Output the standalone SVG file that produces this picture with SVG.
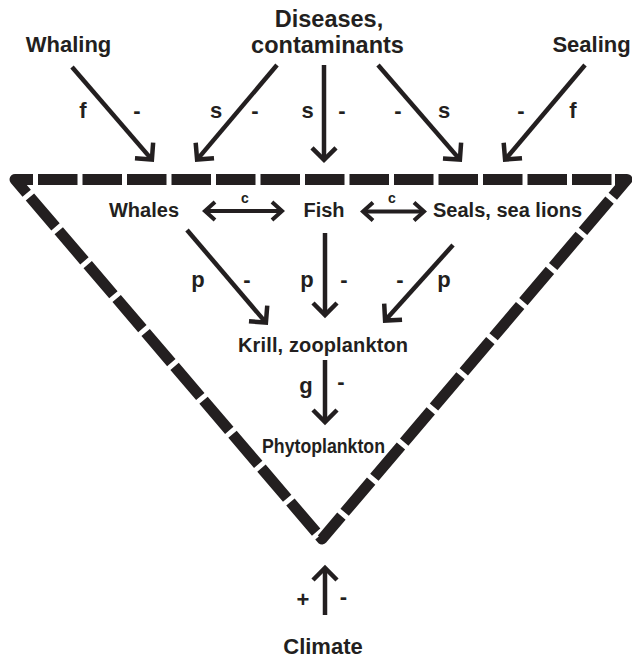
<svg xmlns="http://www.w3.org/2000/svg" width="632" height="662" viewBox="0 0 632 662">
<style>
  text { font-family: "Liberation Sans", Arial, sans-serif; font-weight: bold; fill: #231f20; text-anchor: middle; }
  .big { font-size: 22px; }
  .dis { font-size: 23.5px; }
  .mid { font-size: 20px; }
  .lbl { font-size: 22px; }
  .sm { font-size: 14px; }
  .arrow { stroke: #231f20; stroke-width: 4.5; fill: none; stroke-linecap: butt; }
  .darrow { stroke: #231f20; stroke-width: 4; fill: none; }
  .tri { stroke: #231f20; stroke-width: 11; fill: none; stroke-linecap: butt; stroke-linejoin: round; }
</style>
<defs>
  <marker id="head" viewBox="-20 -20 40 40" markerWidth="40" markerHeight="40" refX="0" refY="0" markerUnits="userSpaceOnUse" orient="auto">
    <path d="M-12,-12 L0,0 L-12,12" fill="none" stroke="#231f20" stroke-width="4.5" stroke-linejoin="miter"/>
  </marker>
  <marker id="headS" viewBox="-20 -20 40 40" markerWidth="40" markerHeight="40" refX="0" refY="0" markerUnits="userSpaceOnUse" orient="auto-start-reverse">
    <path d="M-10,-9 L0,0 L-10,9" fill="none" stroke="#231f20" stroke-width="4" stroke-linejoin="miter"/>
  </marker>
</defs>

<g id="boundary">
  <polyline class="tri" points="26.7,193.2 15,179.5 33,179.5"/>
  <line class="tri" x1="38" y1="179.5" x2="611.5" y2="179.5" stroke-dasharray="39.5 5"/>
  <polyline class="tri" points="615,179.5 627,179.5 612.8,196.3"/>
  <line class="tri" x1="609.53" y1="200.09" x2="344.64" y2="512.31" stroke-dasharray="41.06 5"/>
  <polyline class="tri" points="341.4,516.1 322,539 319.4,536"/>
  <line class="tri" x1="316.15" y1="532.16" x2="29.94" y2="196.99" stroke-dasharray="39.6 5"/>
</g>

<g id="whaling"><text class="big" x="68.5" y="52">Whaling</text></g>
<g id="diseases">
  <text class="dis" x="329" y="27">Diseases,</text>
  <text class="dis" x="327.5" y="53">contaminants</text>
</g>
<g id="sealing"><text class="big" x="591.5" y="52">Sealing</text></g>
<g id="whales"><text class="mid" x="144" y="217">Whales</text></g>
<g id="fish"><text class="mid" x="324" y="217">Fish</text></g>
<g id="seals"><text class="mid" x="507.5" y="217" textLength="149">Seals, sea lions</text></g>
<g id="krill"><text class="mid" x="323" y="352" textLength="170">Krill, zooplankton</text></g>
<g id="phyto"><text class="mid" x="323.5" y="453" textLength="123" lengthAdjust="spacingAndGlyphs">Phytoplankton</text></g>
<g id="climate"><text class="big" x="323" y="654">Climate</text></g>

<g id="connectors">
  <line class="arrow" x1="72" y1="67" x2="151.9" y2="159.6" marker-end="url(#head)"/>
  <line class="arrow" x1="277" y1="65" x2="197.1" y2="159.6" marker-end="url(#head)"/>
  <line class="arrow" x1="324" y1="65" x2="324" y2="159.8" marker-end="url(#head)"/>
  <line class="arrow" x1="378" y1="65" x2="459.9" y2="159.6" marker-end="url(#head)"/>
  <line class="arrow" x1="585" y1="65" x2="505.1" y2="159.6" marker-end="url(#head)"/>

  <line class="darrow" x1="205" y1="211" x2="282" y2="211" marker-start="url(#headS)" marker-end="url(#headS)"/>
  <line class="darrow" x1="363" y1="211.5" x2="424" y2="211.5" marker-start="url(#headS)" marker-end="url(#headS)"/>

  <line class="arrow" x1="187" y1="230" x2="265.9" y2="322.6" marker-end="url(#head)"/>
  <line class="arrow" x1="325" y1="233" x2="325" y2="315" marker-end="url(#head)"/>
  <line class="arrow" x1="453" y1="245" x2="385.1" y2="320.6" marker-end="url(#head)"/>
  <line class="arrow" x1="325" y1="360" x2="325" y2="422" marker-end="url(#head)"/>
  <line class="arrow" x1="325" y1="615" x2="325" y2="568" marker-end="url(#head)"/>
</g>

<g id="labels">
  <text class="lbl" x="83" y="118">f</text>
  <text class="lbl" x="137" y="118">-</text>
  <text class="lbl" x="216" y="118">s</text>
  <text class="lbl" x="255" y="118">-</text>
  <text class="lbl" x="307.5" y="118">s</text>
  <text class="lbl" x="342" y="118">-</text>
  <text class="lbl" x="398" y="118">-</text>
  <text class="lbl" x="444" y="118">s</text>
  <text class="lbl" x="521" y="118">-</text>
  <text class="lbl" x="573" y="118">f</text>

  <text class="sm" x="245" y="203">c</text>
  <text class="sm" x="392" y="203">c</text>

  <text class="lbl" x="198" y="287">p</text>
  <text class="lbl" x="247" y="287">-</text>
  <text class="lbl" x="307" y="287">p</text>
  <text class="lbl" x="344" y="287">-</text>
  <text class="lbl" x="400" y="287">-</text>
  <text class="lbl" x="444" y="287">p</text>

  <text class="lbl" x="306" y="393">g</text>
  <text class="lbl" x="341" y="389">-</text>

  <text class="lbl" x="303" y="607">+</text>
  <text class="lbl" x="343.5" y="604">-</text>
</g>
</svg>
